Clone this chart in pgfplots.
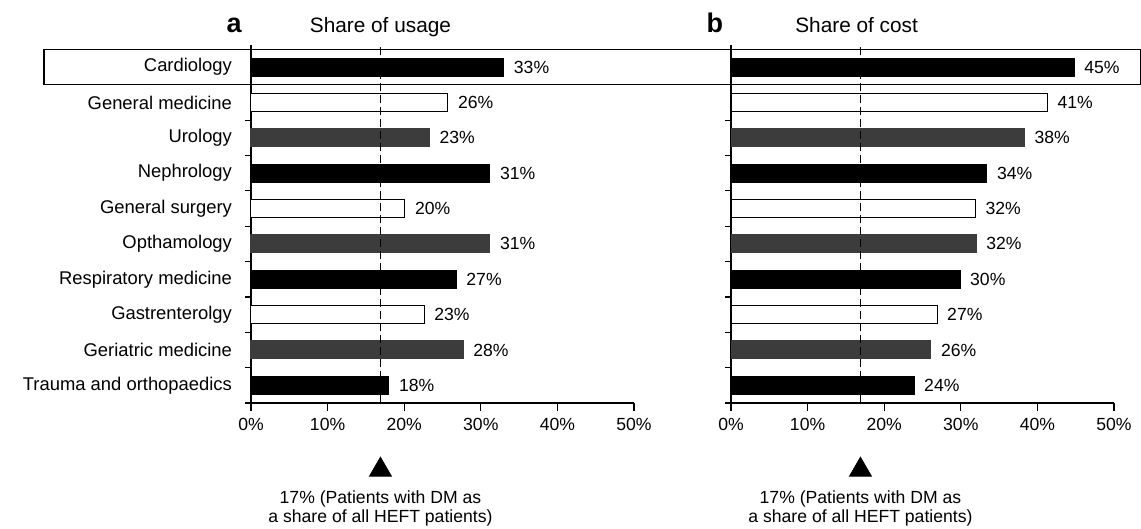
\documentclass[border=0pt]{standalone}
\usepackage{fontspec}
\setmainfont{Liberation Sans}
\usepackage{pgfplots}
\pgfplotsset{compat=1.18}
\definecolor{dgray}{HTML}{3C3C3C}
\newcommand{\catfont}{\fontsize{9.2}{10}\selectfont}
\newcommand{\valfont}{\fontsize{8.8}{10}\selectfont}
\begin{document}
\begin{tikzpicture}
\useasboundingbox (0,0) rectangle (570.5pt,-264.5pt);
\pgfplotsset{
  panel/.style={
    scale only axis, width=191.5pt, height=179pt,
    anchor=south west,
    xmin=0, xmax=50, ymin=-0.5, ymax=9.627,
    axis x line*=bottom, axis y line*=left,
    x axis line style={-}, y axis line style={-},
    axis line style={line width=0.6pt},
    every tick/.style={black, line width=0.6pt},
    xtick={0,10,...,50},
    xticklabel={\pgfmathprintnumber{\tick}\%},
    /pgf/number format/assume math mode=true,
    tick align=outside,
    major tick length=4pt,
    minor tick length=3pt,
    ytick={0,...,9},
    major y tick style={draw=none},
    minor ytick={-0.5,0.5,...,8.5},
    x tick label style={font=\valfont},
    y tick label style={font=\catfont, xshift=-2pt},
    clip=false,
    bars/.style={xbar, bar width=9pt, bar shift=0pt, line width=0.5pt,
      point meta=explicit symbolic,
      nodes near coords={\pgfplotspointmeta\%},
      nodes near coords style={anchor=west, font=\valfont, text=black, xshift=1.5pt}},
  }
}
% ---------- panel a ----------
\begin{axis}[panel, at={(125.5pt,-201.5pt)},
  yticklabels={Trauma and orthopaedics, Geriatric medicine, Gastrenterolgy, Respiratory medicine, Opthamology, General surgery, Nephrology, Urology, General medicine, Cardiology}]
\addplot[bars, fill=black, draw=black] coordinates {(33.0,9) [33] (31.2,6) [31] (26.8,3) [27] (18.0,0) [18]};
\addplot[bars, fill=white, draw=black] coordinates {(25.7,8) [26] (20.1,5) [20] (22.6,2) [23]};
\addplot[bars, fill=dgray, draw=dgray] coordinates {(23.3,7) [23] (31.2,4) [31] (27.7,1) [28]};
\addplot[black, line width=0.8pt, dash pattern=on 4pt off 2pt] coordinates {(16.9,-0.5) (16.9,9.627)};
\addplot[only marks, mark=triangle*, mark size=6.3pt, black] coordinates {(16.9,-2.39)};
\node[anchor=base, font=\fontsize{10.4}{12}\selectfont] at (axis cs:16.9,9.97) {Share of usage};
\node[anchor=base, font=\bfseries\fontsize{13.5}{15}\selectfont] at (axis cs:-2.2,9.97) {a};
\node[align=center, font=\fontsize{8.8}{9.5}\selectfont] at (axis cs:16.9,-3.48) {17\% (Patients with DM as\\a share of all HEFT patients)};
\end{axis}
% ---------- panel b ----------
\begin{axis}[panel, at={(365.5pt,-201.5pt)}, yticklabels={}]
\addplot[bars, fill=black, draw=black] coordinates {(44.8,9) [45] (33.4,6) [34] (29.9,3) [30] (23.9,0) [24]};
\addplot[bars, fill=white, draw=black] coordinates {(41.3,8) [41] (31.9,5) [32] (26.9,2) [27]};
\addplot[bars, fill=dgray, draw=dgray] coordinates {(38.3,7) [38] (32.0,4) [32] (26.1,1) [26]};
\addplot[black, line width=0.8pt, dash pattern=on 4pt off 2pt] coordinates {(16.9,-0.5) (16.9,9.627)};
\addplot[only marks, mark=triangle*, mark size=6.3pt, black] coordinates {(16.9,-2.39)};
\node[anchor=base, font=\fontsize{10.4}{12}\selectfont] at (axis cs:16.4,9.97) {Share of cost};
\node[anchor=base, font=\bfseries\fontsize{13.5}{15}\selectfont] at (axis cs:-2.1,9.97) {b};
\node[align=center, font=\fontsize{8.8}{9.5}\selectfont] at (axis cs:16.9,-3.48) {17\% (Patients with DM as\\a share of all HEFT patients)};
\end{axis}
\draw[line width=0.6pt] (22pt,-24.75pt) rectangle (570.2pt,-42.25pt);
\end{tikzpicture}
\end{document}
